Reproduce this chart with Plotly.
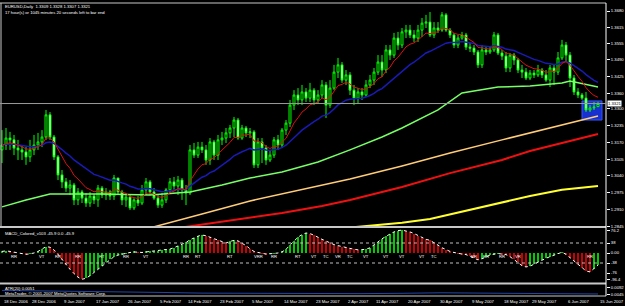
import plotly.graph_objects as go
import pandas as pd

# ---------------- data ----------------
open_ = [1.3141,1.3160,1.3187,1.3180,1.3148,1.3141,1.3133,1.3114,1.3141,1.3160,
         1.3172,1.3191,1.3277,1.3191,1.3114,1.3044,1.3017,1.2993,1.3005,1.2947,
         1.2978,1.2954,1.2935,1.2962,1.2947,1.2993,1.2966,1.2978,1.2962,1.3032,
         1.2978,1.2947,1.2958,1.2916,1.2947,1.2935,1.2986,1.3017,1.2978,1.2954,
         1.2927,1.2947,1.2986,1.3017,1.3001,1.3024,1.2986,1.2974,1.3141,1.3121,
         1.3152,1.3141,1.3102,1.3172,1.3121,1.3180,1.3187,1.3207,1.3226,1.3257,
         1.3187,1.3226,1.3207,1.3211,1.3083,1.3172,1.3148,1.3102,1.3121,1.3180,
         1.3160,1.3218,1.3245,1.3315,1.3354,1.3335,1.3366,1.3342,1.3373,1.3335,
         1.3354,1.3393,1.3315,1.3381,1.3443,1.3471,1.3412,1.3432,1.3373,1.3342,
         1.3366,1.3354,1.3393,1.3412,1.3443,1.3482,1.3451,1.3529,1.3509,1.3575,
         1.3548,1.3599,1.3606,1.3587,1.3575,1.3606,1.3633,1.3637,1.3587,1.3614,
         1.3606,1.3665,1.3606,1.3587,1.3548,1.3575,1.3587,1.3540,1.3536,1.3521,
         1.3471,1.3529,1.3521,1.3529,1.3587,1.3517,1.3505,1.3459,1.3509,1.3490,
         1.3451,1.3443,1.3420,1.3439,1.3432,1.3451,1.3432,1.3412,1.3459,1.3443,
         1.3498,1.3548,1.3509,1.3420,1.3366,1.3354,1.3342,1.3296,1.3304,1.3309]
high = [1.3218,1.3226,1.3211,1.3199,1.3180,1.3160,1.3152,1.3180,1.3199,1.3207,
        1.3218,1.3296,1.3288,1.3199,1.3121,1.3063,1.3032,1.3024,1.3013,1.2993,
        1.2986,1.2974,1.2978,1.2970,1.3005,1.3001,1.2993,1.2986,1.3044,1.3032,
        1.2986,1.2974,1.2966,1.2954,1.2962,1.3005,1.3032,1.3024,1.2993,1.2966,
        1.2974,1.2993,1.3032,1.3036,1.3040,1.3032,1.3005,1.3160,1.3168,1.3172,
        1.3172,1.3160,1.3187,1.3180,1.3199,1.3211,1.3226,1.3238,1.3269,1.3265,
        1.3238,1.3234,1.3226,1.3218,1.3187,1.3187,1.3160,1.3141,1.3191,1.3199,
        1.3226,1.3257,1.3335,1.3373,1.3381,1.3393,1.3381,1.3401,1.3381,1.3373,
        1.3412,1.3405,1.3412,1.3471,1.3498,1.3482,1.3451,1.3443,1.3393,1.3381,
        1.3381,1.3412,1.3432,1.3459,1.3509,1.3509,1.3548,1.3548,1.3595,1.3599,
        1.3614,1.3626,1.3626,1.3606,1.3626,1.3653,1.3665,1.3676,1.3637,1.3637,
        1.3676,1.3672,1.3614,1.3595,1.3587,1.3599,1.3595,1.3556,1.3548,1.3529,
        1.3548,1.3540,1.3544,1.3599,1.3595,1.3529,1.3521,1.3517,1.3517,1.3498,
        1.3471,1.3459,1.3451,1.3451,1.3471,1.3459,1.3451,1.3471,1.3471,1.3521,
        1.3568,1.3560,1.3521,1.3432,1.3381,1.3362,1.3366,1.3315,1.3327,1.3328]
low = [1.3090,1.3141,1.3141,1.3121,1.3102,1.3102,1.3083,1.3094,1.3121,1.3141,
       1.3152,1.3180,1.3180,1.3102,1.3024,1.2993,1.2978,1.2966,1.2927,1.2927,
       1.2935,1.2920,1.2920,1.2931,1.2920,1.2954,1.2947,1.2947,1.2947,1.2966,
       1.2927,1.2920,1.2908,1.2908,1.2923,1.2927,1.2966,1.2966,1.2947,1.2916,
       1.2916,1.2935,1.2974,1.2986,1.2966,1.2947,1.2927,1.2966,1.3110,1.3110,
       1.3129,1.3083,1.3083,1.3102,1.3102,1.3160,1.3168,1.3187,1.3191,1.3180,
       1.3180,1.3191,1.3187,1.3071,1.3071,1.3090,1.3083,1.3094,1.3110,1.3141,
       1.3148,1.3199,1.3230,1.3296,1.3315,1.3315,1.3327,1.3327,1.3315,1.3323,
       1.3342,1.3265,1.3304,1.3373,1.3420,1.3401,1.3393,1.3354,1.3315,1.3323,
       1.3335,1.3346,1.3381,1.3393,1.3432,1.3424,1.3439,1.3490,1.3498,1.3529,
       1.3536,1.3575,1.3575,1.3560,1.3560,1.3579,1.3614,1.3579,1.3575,1.3595,
       1.3599,1.3599,1.3575,1.3536,1.3536,1.3568,1.3529,1.3521,1.3509,1.3459,
       1.3459,1.3509,1.3513,1.3521,1.3509,1.3490,1.3443,1.3443,1.3471,1.3439,
       1.3420,1.3412,1.3412,1.3420,1.3424,1.3420,1.3405,1.3385,1.3393,1.3432,
       1.3490,1.3482,1.3385,1.3354,1.3342,1.3335,1.3288,1.3288,1.3296,1.3307]
close = [1.3160,1.3187,1.3180,1.3148,1.3141,1.3133,1.3114,1.3141,1.3160,1.3172,
         1.3191,1.3277,1.3191,1.3114,1.3044,1.3017,1.2993,1.3005,1.2947,1.2978,
         1.2954,1.2935,1.2962,1.2947,1.2993,1.2966,1.2978,1.2962,1.3032,1.2978,
         1.2947,1.2958,1.2916,1.2947,1.2935,1.2986,1.3017,1.2978,1.2954,1.2927,
         1.2947,1.2986,1.3017,1.3001,1.3024,1.2986,1.2974,1.3141,1.3121,1.3152,
         1.3141,1.3102,1.3172,1.3121,1.3180,1.3187,1.3207,1.3226,1.3257,1.3187,
         1.3226,1.3207,1.3211,1.3083,1.3172,1.3148,1.3102,1.3121,1.3180,1.3160,
         1.3218,1.3245,1.3315,1.3354,1.3335,1.3366,1.3342,1.3373,1.3335,1.3354,
         1.3393,1.3315,1.3381,1.3443,1.3471,1.3412,1.3432,1.3373,1.3342,1.3366,
         1.3354,1.3393,1.3412,1.3443,1.3482,1.3451,1.3529,1.3509,1.3575,1.3548,
         1.3599,1.3606,1.3587,1.3575,1.3606,1.3633,1.3637,1.3587,1.3614,1.3606,
         1.3665,1.3606,1.3587,1.3548,1.3575,1.3587,1.3540,1.3536,1.3521,1.3471,
         1.3529,1.3521,1.3529,1.3587,1.3517,1.3505,1.3459,1.3509,1.3490,1.3451,
         1.3443,1.3420,1.3439,1.3432,1.3451,1.3432,1.3412,1.3459,1.3443,1.3498,
         1.3548,1.3509,1.3420,1.3366,1.3354,1.3342,1.3296,1.3304,1.3307,1.3321]

green_ma_bar = [0, 6, 12, 25, 37, 47, 55, 62, 70, 79, 87, 95, 100, 109, 115, 124, 132, 140, 142, 149]
green_ma = [1.2920, 1.2947, 1.2970, 1.2970, 1.2966, 1.2978, 1.3005, 1.3032, 1.3055, 1.3094,
            1.3141, 1.3191, 1.3226, 1.3296, 1.3362, 1.3385, 1.3389, 1.3401, 1.3408, 1.3385]
orange_ma_bar = [33, 37, 50, 62, 75, 87, 100, 112, 125, 137, 149]
orange_ma = [1.2822, 1.2838, 1.2892, 1.2943, 1.2986, 1.3028, 1.3079, 1.3129, 1.3180, 1.3226, 1.3273]
red_ma_bar = [44, 62, 70, 80, 87, 100, 112, 125, 132, 140, 149]
red_ma = [1.2838, 1.2877, 1.2896, 1.2923, 1.2947, 1.2997, 1.3051, 1.3102, 1.3137, 1.3168, 1.3203]
yellow_ma_bar = [80, 100, 107, 117, 125, 132, 140, 149]
yellow_ma = [1.2830, 1.2858, 1.2873, 1.2908, 1.2935, 1.2962, 1.2986, 1.3001]

macd = [6, 8, 6, 3, 0, -3, -5, -3, 0, 6, 14, 24,
        22, 12, -5, -25, -45, -62, -78, -92,
        -100, -96, -86, -74, -62, -48, -35, -24,
        -14, -8, -4, -2, 2, 4, 3, 2,
        4, 6, 8, 9, 10, 12, 15, 20,
        26, 32, 40, 50, 58, 64, 68, 66,
        60, 54, 48, 42, 38, 44, 48, 46,
        38, 28, 16, 6, 2, -2, -4, -3,
        -2, 0, 4, 14, 30, 46, 60, 70,
        76, 74, 68, 60, 52, 45, 38, 32,
        28, 24, 22, 18, 14, 12, 12, 14,
        20, 30, 42, 54, 64, 72, 80, 85,
        87, 84, 80, 74, 66, 58, 52, 48,
        40, 30, 20, 12, 6, 2, -2, -4,
        -6, -12, -20, -26, -22, -14, -8, -4,
        -2, -4, -6, -14, -24, -36, -48, -53,
        -50, -42, -35, -28, -20, -14, -8, -2,
        3, -5, -18, -32, -45, -58, -68, -72,
        -60, -46]

atr_bar = [0, 10, 20, 30, 40, 50, 60, 70, 80, 90, 100, 110, 120, 130, 140, 149]
atr = [0.0072, 0.0070, 0.0068, 0.0064, 0.0060, 0.0056, 0.0055, 0.0054,
       0.0052, 0.0053, 0.0055, 0.0058, 0.0056, 0.0053, 0.0052, 0.0051]

date_bar = [0, 7, 15, 23, 31, 39, 46, 54, 62, 70, 78, 86, 93, 101, 109, 117, 125, 132, 141, 149]
date_text = ["18 Dec 2006", "28 Dec 2006", "9 Jan 2007", "17 Jan 2007", "26 Jan 2007",
             "5 Feb 2007", "14 Feb 2007", "23 Feb 2007", "5 Mar 2007", "14 Mar 2007",
             "23 Mar 2007", "2 Apr 2007", "11 Apr 2007", "20 Apr 2007", "30 Apr 2007",
             "9 May 2007", "18 May 2007", "29 May 2007", "6 Jun 2007", "15 Jun 2007"]

price_ticks = [1.3680, 1.3615, 1.3555, 1.3490, 1.3425, 1.3360, 1.3300, 1.3235,
               1.3170, 1.3105, 1.3040, 1.2975, 1.2910, 1.2845]
macd_ticks = [84, 38, 0, -38, -76, -99]
macd_tick_text = ["76.2", "38", "0.00", "-38", "-76", "-96.4"]
atr_ticks = [0.0092, 0.0045]
atr_tick_text = ["0.0092", "0.0045"]

macd_marks = [(3, "RR"), (10, "VT"), (14, "RR"), (19, "RR"), (25, "RT"), (31, "RR"), (36, "VT"),
              (46, "RR"), (49, "RT"), (57, "RT"), (64, "VRR"), (68, "RR"), (74, "RT"),
              (78, "VT"), (81, "TC"), (84, "VR"), (87, "TC"), (91, "VT"), (96, "VT"),
              (100, "VT"), (105, "VT"), (108, "TC"), (118, "RR"), (121, "RR"), (125, "RR"),
              (129, "VR"), (147, "RR")]

last_price = close[-1]
header1 = "EURUSD,Daily  1.3309 1.3328 1.3307 1.3321"
header2 = "17 hour(s) or 1045 minutes 20 seconds left to bar end"
macd_title = "MACD_Colored_v103 -45.9 0.0 -45.9"
atr_title = "ATR(20) 0.0051"
copyright_text = "MetaTrader, \u00a9 2001-2007 MetaQuotes Software Corp."

# ---------------- figure ----------------
bars = list(range(len(close)))
cs = pd.Series(close)
ema_fast = cs.ewm(span=8, adjust=False).mean()
ema_slow = cs.ewm(span=21, adjust=False).mean()

FONT = "Liberation Sans"
FS = 4.2
W, H = 625, 306
ML, MR, MT, MB = 0, 19, 3, 10
PW, PH = W - ML - MR, H - MT - MB


def py(ypix):
    return (H - MB - ypix) / PH


def px(xpix):
    return xpix / PW


fig = go.Figure()

fig.add_trace(go.Candlestick(
    x=bars, open=open_, high=high, low=low, close=close,
    increasing=dict(line=dict(color="#00ff00", width=1), fillcolor="#000000"),
    decreasing=dict(line=dict(color="#00ff00", width=1), fillcolor="#ffffff"),
    whiskerwidth=0, xaxis="x", yaxis="y", hoverinfo="skip", showlegend=False))

fig.add_trace(go.Scatter(x=yellow_ma_bar, y=yellow_ma, mode="lines",
                         line=dict(color="#ffff30", width=2), xaxis="x", yaxis="y", showlegend=False))
fig.add_trace(go.Scatter(x=red_ma_bar, y=red_ma, mode="lines",
                         line=dict(color="#ee1111", width=2), xaxis="x", yaxis="y", showlegend=False))
fig.add_trace(go.Scatter(x=orange_ma_bar, y=orange_ma, mode="lines",
                         line=dict(color="#ffcc77", width=1.5), xaxis="x", yaxis="y", showlegend=False))
fig.add_trace(go.Scatter(x=green_ma_bar, y=green_ma, mode="lines",
                         line=dict(color="#77ff66", width=1.5), xaxis="x", yaxis="y", showlegend=False))
fig.add_trace(go.Scatter(x=bars, y=ema_slow, mode="lines",
                         line=dict(color="#1a1ab8", width=1.5), xaxis="x", yaxis="y", showlegend=False))
fig.add_trace(go.Scatter(x=bars, y=ema_fast, mode="lines",
                         line=dict(color="#dd1111", width=1), xaxis="x", yaxis="y", showlegend=False))

macd_colors = ["#00cc00"] + ["#00cc00" if macd[i] >= macd[i - 1] else "#cc0000" for i in range(1, len(macd))]
fig.add_trace(go.Bar(x=bars, y=macd, marker=dict(color=macd_colors, line=dict(width=0)),
                     width=0.25, xaxis="x2", yaxis="y2", showlegend=False))
fig.add_trace(go.Scatter(x=bars, y=macd, mode="lines",
                         line=dict(color="#ffffff", width=1, dash="dot"),
                         xaxis="x2", yaxis="y2", showlegend=False))

fig.add_trace(go.Scatter(x=atr_bar, y=atr, mode="lines",
                         line=dict(color="#2244aa", width=1), xaxis="x3", yaxis="y3", showlegend=False))

xr = [-0.5, 151]
axis_common = dict(showgrid=False, zeroline=False)
fig.update_layout(
    width=W, height=H, margin=dict(l=ML, r=MR, t=MT, b=MB),
    paper_bgcolor="#000000", plot_bgcolor="#000000", hovermode=False,
    font=dict(family=FONT, size=FS, color="#ffffff"),
    bargap=0,
    xaxis=dict(domain=[0, 1], range=xr, anchor="y", showticklabels=False,
               rangeslider=dict(visible=False), **axis_common),
    xaxis2=dict(domain=[0, 1], range=xr, anchor="y2", matches="x", showticklabels=False, **axis_common),
    xaxis3=dict(domain=[0, 1], range=xr, anchor="y3", matches="x", showticklabels=False, **axis_common),
    yaxis=dict(domain=[py(227), 1], range=[1.28419, 1.37111], side="right", anchor="x",
               tickvals=price_ticks, ticktext=["%.4f" % v for v in price_ticks],
               ticks="outside", ticklen=3, tickcolor="#ffffff",
               tickfont=dict(size=FS, color="#ffffff", family=FONT), **axis_common),
    yaxis2=dict(domain=[py(283), py(228)], range=[-114, 95], side="right", anchor="x2",
                tickvals=macd_ticks, ticktext=macd_tick_text,
                ticks="outside", ticklen=3, tickcolor="#ffffff",
                tickfont=dict(size=FS, color="#ffffff", family=FONT), **axis_common),
    yaxis3=dict(domain=[0, py(285)], range=[0.0039, 0.0104], side="right", anchor="x3",
                tickvals=atr_ticks, ticktext=atr_tick_text,
                ticks="outside", ticklen=3, tickcolor="#ffffff",
                tickfont=dict(size=FS, color="#ffffff", family=FONT), **axis_common),
)

shapes = []
# frame lines
shapes.append(dict(type="line", xref="paper", yref="paper", x0=0, x1=1, y0=py(3), y1=py(3),
                   line=dict(color="#c8c8c8", width=1)))
shapes.append(dict(type="line", xref="paper", yref="paper", x0=0, x1=1, y0=py(227), y1=py(227),
                   line=dict(color="#c8c8c8", width=2)))
shapes.append(dict(type="line", xref="paper", yref="paper", x0=0, x1=1, y0=py(283.5), y1=py(283.5),
                   line=dict(color="#c8c8c8", width=2)))
shapes.append(dict(type="line", xref="paper", yref="paper", x0=0, x1=1, y0=py(296), y1=py(296),
                   line=dict(color="#c8c8c8", width=1)))
shapes.append(dict(type="line", xref="paper", yref="paper", x0=1, x1=1, y0=0, y1=1,
                   line=dict(color="#ffffff", width=1)))
shapes.append(dict(type="line", xref="paper", yref="paper", x0=px(1), x1=px(1), y0=py(227), y1=1,
                   line=dict(color="#c8c8c8", width=1)))
# blue rectangle object
shapes.append(dict(type="rect", xref="x", yref="y", x0=145, x1=150, y0=1.3257, y1=1.3331,
                   fillcolor="#1830d0", line=dict(color="#3355ff", width=1), layer="below"))
# bid line
shapes.append(dict(type="line", xref="paper", yref="y", x0=0, x1=1, y0=last_price, y1=last_price,
                   line=dict(color="#9a9a9a", width=1)))
# MACD level lines
for lv in (38, -38):
    shapes.append(dict(type="line", xref="paper", yref="y2", x0=0, x1=1, y0=lv, y1=lv,
                       line=dict(color="#c0c0c0", width=1, dash="dot")))
fig.update_layout(shapes=shapes)

ann = []
ann.append(dict(text=header1, xref="paper", yref="paper", x=px(3), y=py(6), xanchor="left",
                yanchor="middle", showarrow=False, font=dict(size=FS, color="#ffffff")))
ann.append(dict(text=header2, xref="paper", yref="paper", x=px(3), y=py(12.5), xanchor="left",
                yanchor="middle", showarrow=False, font=dict(size=FS, color="#ffffff")))
ann.append(dict(text=macd_title, xref="paper", yref="paper", x=px(3), y=py(233), xanchor="left",
                yanchor="middle", showarrow=False, font=dict(size=FS, color="#ffffff")))
ann.append(dict(text=atr_title, xref="paper", yref="paper", x=px(3), y=py(288), xanchor="left",
                yanchor="middle", showarrow=False, font=dict(size=FS, color="#ffffff")))
ann.append(dict(text=copyright_text, xref="paper", yref="paper", x=px(3), y=py(293.5), xanchor="left",
                yanchor="middle", showarrow=False, font=dict(size=FS, color="#ffffff")))
for b, t in zip(date_bar, date_text):
    ann.append(dict(text=t, xref="x3", yref="paper", x=b, y=py(301), xanchor="left",
                    yanchor="middle", showarrow=False, font=dict(size=FS, color="#ffffff")))
for b, t in macd_marks:
    ann.append(dict(text=t, xref="x2", yref="y2", x=b, y=-15, xanchor="center",
                    yanchor="middle", showarrow=False, font=dict(size=FS, color="#ffffff")))
ann.append(dict(text="%.4f" % last_price, xref="paper", yref="y", x=1, y=last_price, xanchor="left",
                yanchor="middle", xshift=1, showarrow=False, bgcolor="#ffffff", borderpad=0,
                font=dict(size=FS, color="#000000")))
fig.update_layout(annotations=ann)

fig.write_html("out.html")
